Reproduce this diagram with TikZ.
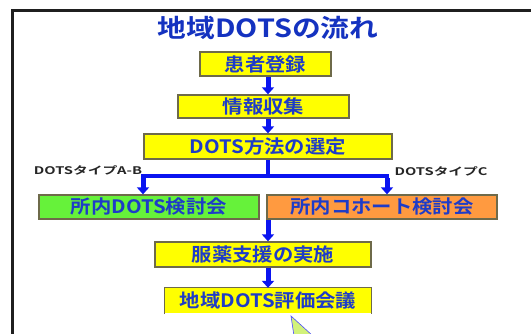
\documentclass[tikz,border=0pt]{standalone}
\usepackage{fontspec}
\usetikzlibrary{arrows.meta}
\newfontfamily\jpb{Noto Sans CJK JP Bold}[FakeStretch=1.1]
\newfontfamily\jpt{Noto Sans CJK JP Bold}[FakeStretch=1.15]
\newfontfamily\jpw{Noto Sans CJK JP Bold}[FakeStretch=1.4]
\definecolor{txtblue}{HTML}{1E3CC8}
\definecolor{titleblue}{HTML}{1432C0}
\definecolor{arrowblue}{HTML}{0A14F0}
\definecolor{boxyellow}{HTML}{FFFF00}
\definecolor{boxgreen}{HTML}{66F23A}
\definecolor{boxorange}{HTML}{FF9A40}
\definecolor{boxedge}{HTML}{6E6A4A}
\definecolor{callgreen}{HTML}{D2F27A}
\tikzset{
  flowbox/.style={draw=boxedge, line width=1.3pt, fill=boxyellow, inner sep=0pt,
    text=txtblue, font=\jpb\fontsize{18.5}{20}\selectfont},
  blk/.style={draw=arrowblue, line width=5pt, -{Triangle[width=12pt,length=7pt]}},
  branchline/.style={draw=arrowblue, line width=4pt},
  typelabel/.style={font=\jpw\fontsize{10.5}{12}\selectfont, text=black!85, inner sep=0pt}
}
\begin{document}
\begin{tikzpicture}[x=1pt,y=-1pt]
\useasboundingbox (0,0) rectangle (531,334);
\fill[white] (0,0) rectangle (531,334);
% frame
\draw[line width=3pt, black!88] (12,336) -- (12,11) -- (533,11);
% title
\node[text=titleblue, font=\jpt\fontsize{25}{27}\selectfont, inner sep=0pt] (title) at (268,28) {地域DOTSの流れ};
% boxes
\node[flowbox, minimum width=131pt, minimum height=24pt] (b1) at (265.5,64) {患者登録};
\node[flowbox, minimum width=171pt, minimum height=23pt] (b2) at (263.5,106.5) {情報収集};
\node[flowbox, minimum width=248pt, minimum height=25pt] (b3) at (268,146.5) {DOTS方法の選定};
\node[flowbox, fill=boxgreen, minimum width=220pt, minimum height=24pt] (b4) at (149,207) {所内DOTS検討会};
\node[flowbox, fill=boxorange, minimum width=230pt, minimum height=24pt] (b5) at (382,207) {所内コホート検討会};
\node[flowbox, minimum width=216pt, minimum height=25pt] (b6) at (263,254.5) {服薬支援の実施};
\node[flowbox, draw=none, minimum width=206pt, minimum height=25pt] (b7) at (268,301) {地域DOTS評価会議};
\draw[boxedge, line width=1.3pt] (b7.south west) -- (b7.north west) -- (b7.north east) -- (b7.south east);
% labels
\node[typelabel] (la) at (88,170) {DOTSタイプA-B};
\node[typelabel] (lc) at (441,171) {DOTSタイプC};
% arrows
\draw[blk] (b1.south -| b3.center) -- (b2.north -| b3.center);
\draw[blk] (b2.south -| b3.center) -- (b3.north);
\coordinate (split) at (268,176);
\coordinate (sl) at (143,176);
\coordinate (sr) at (387,176);
\draw[branchline] (b3.south) -- (split);
\draw[branchline] ([xshift=-2pt]sl) -- ([xshift=2pt]sr);
\draw[blk] ([yshift=-2pt]sl) -- (b4.north -| sl);
\draw[blk] ([yshift=-2pt]sr) -- (b5.north -| sr);
\draw[blk] (b4.south -| b3.center) -- (b6.north -| b3.center);
\draw[blk] (b6.south -| b3.center) -- (b7.north -| b3.center);
% callout pointer
\coordinate (tip) at (291,316);
\filldraw[fill=callgreen, draw=blue!70, line width=0.6pt] (tip) -- (294,336) -- (313,336) -- cycle;
\end{tikzpicture}
\end{document}
